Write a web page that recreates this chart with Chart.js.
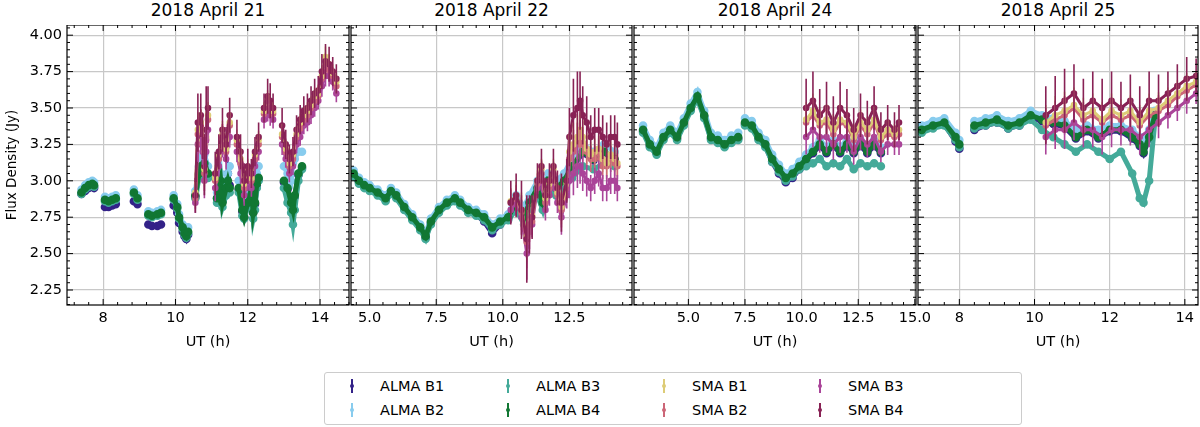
<!DOCTYPE html>
<html><head><meta charset="utf-8">
<script src="https://cdn.jsdelivr.net/npm/chart.js@4"></script>
<style>
body{margin:0;width:1200px;height:427px;background:#fff;font-family:"DejaVu Sans",sans-serif;position:relative;overflow:hidden}
canvas{position:absolute}
.t{position:absolute;top:0px;font-size:17px;text-align:center;color:#000}
#leg{position:absolute;left:324px;top:372px;width:698px;height:53px;border:1px solid #ccc;border-radius:3px;font-size:14.5px;box-sizing:border-box}
.li{position:absolute;height:20px;line-height:20px;white-space:nowrap}
.mk{position:absolute;left:-31px;top:3px;width:6px;height:14px}
.mk i{position:absolute;left:2px;top:0;width:2px;height:14px}
.mk b{position:absolute;left:1px;top:5px;width:4px;height:4px;border-radius:50%}
</style></head><body>
<div class="t" style="left:67px;width:282px">2018 April 21</div>
<div class="t" style="left:351px;width:281px">2018 April 22</div>
<div class="t" style="left:634px;width:282px">2018 April 24</div>
<div class="t" style="left:918px;width:280px">2018 April 25</div>
<canvas id="c1"></canvas><canvas id="c2"></canvas><canvas id="c3"></canvas><canvas id="c4"></canvas>
<div id="leg"></div>
<script>
const seriesNames=["ALMA B1","ALMA B2","ALMA B3","ALMA B4","SMA B1","SMA B2","SMA B3","SMA B4"];
const colors=["#332288","#88ccee","#44aa99","#117733","#ddcc77","#cc6677","#aa4499","#882255"];
const yTicks=[2.25,2.5,2.75,3.0,3.25,3.5,3.75,4.0];
const titles=["2018 April 21","2018 April 22","2018 April 24","2018 April 25"];
const xRanges=[[7.0,14.8],[4.3,14.85],[2.6,15.05],[6.9,14.35]];
const xSteps=[2,2.5,2.5,2];

// Day 1 ALMA (null = gap)
const d1AT=[7.4,7.5,7.6,7.7,7.75,7.9,8.05,8.15,8.25,8.35,8.6,8.85,8.95,9.1,9.25,9.35,9.5,9.6,9.8,9.95,10.05,10.1,10.2,10.25,10.3,10.35,10.45,10.55,10.65,10.7,10.8,10.9,11.0,11.15,11.25,11.3,11.4,11.45,11.5,11.6,11.75,11.85,11.9,12.0,12.1,12.15,12.2,12.25,12.3,12.6,13.0,13.1,13.2,13.25,13.3,13.4,13.5];
const d1A4=[2.92,2.95,2.97,2.98,2.97,null,2.87,2.86,2.87,2.88,null,2.92,2.88,null,2.77,2.76,2.77,2.78,null,2.88,2.82,2.75,2.68,2.64,2.62,2.65,null,2.90,3.05,3.10,3.12,3.05,null,2.88,3.0,2.85,2.95,3.0,2.95,null,2.95,2.80,2.75,2.85,2.95,2.78,2.85,2.98,3.02,null,3.0,2.95,2.85,2.80,2.90,3.05,3.10];
const d1A3=[2.91,2.94,2.96,2.97,2.96,null,2.86,2.85,2.86,2.87,null,2.91,2.87,null,2.76,2.75,2.76,2.77,null,2.87,2.81,2.74,2.67,2.63,2.61,2.64,null,2.88,3.02,3.08,3.10,3.02,null,2.85,2.96,2.82,2.90,2.96,2.92,null,2.92,2.76,2.74,2.82,2.90,2.74,2.80,2.95,3.00,null,2.95,2.85,2.78,2.70,2.80,3.00,3.08];
const d1A2=[2.94,2.97,2.99,3.00,2.99,null,2.89,2.88,2.89,2.90,null,2.94,2.90,null,2.79,2.78,2.79,2.80,null,2.90,2.84,2.77,2.70,2.66,2.64,2.68,null,2.93,3.10,3.16,3.18,3.10,null,2.92,3.05,2.90,3.00,3.05,3.10,null,3.00,2.85,2.80,2.90,3.00,2.84,2.92,3.05,3.10,null,3.10,3.05,3.00,3.12,3.15,3.20,3.20];
const d1A1=[2.91,2.93,2.95,2.96,2.95,null,2.82,2.82,2.83,2.84,null,2.86,2.84,null,2.70,2.69,2.69,2.70,null,2.83,2.78,2.71,2.65,2.62,2.60,2.63,null,2.89,3.04,3.09,3.11,3.04,null,2.88,2.99,2.86,2.96,3.05,2.97,null,2.94,2.79,2.75,2.84,2.94,2.78,2.84,2.97,3.01,null,2.99,2.94,2.85,2.80,2.89,3.04,3.09];
const d1ST=[10.55,10.62,10.7,10.75,10.8,10.85,10.9,11.0,11.1,11.2,11.3,11.4,11.5,11.6,11.7,11.8,11.9,12.0,12.1,12.2,12.3,12.38,12.45,12.55,12.62,12.7,12.85,12.95,13.05,13.15,13.25,13.35,13.45,13.55,13.65,13.75,13.85,13.95,14.05,14.15,14.25,14.35,14.45];
const d1S4=[2.9,3.4,3.45,3.3,3.1,3.35,3.5,null,3.05,3.2,3.35,3.25,3.45,null,3.3,3.2,3.0,3.1,3.05,3.2,3.3,null,3.5,3.58,3.55,3.5,null,3.38,3.25,3.15,3.2,3.35,3.42,3.48,3.5,3.55,3.6,3.62,3.75,3.82,3.8,3.75,3.7];
const d1S3=[2.85,3.25,3.3,3.2,3.0,3.2,3.35,null,2.95,3.1,3.25,3.15,3.3,null,3.2,3.05,2.9,3.0,2.95,3.1,3.2,null,3.42,3.48,3.45,3.42,null,3.25,3.15,3.05,3.1,3.25,3.3,3.38,3.4,3.45,3.5,3.55,3.65,3.72,3.72,3.68,3.6];
const d1S2=[2.88,3.32,3.38,3.25,3.05,3.28,3.42,null,3.0,3.15,3.3,3.2,3.38,null,3.25,3.12,2.95,3.05,3.0,3.15,3.25,null,3.46,3.53,3.5,3.46,null,3.3,3.2,3.1,3.15,3.3,3.36,3.42,3.45,3.5,3.55,3.58,3.7,3.77,3.76,3.72,3.65];
const d1S1=[2.92,3.35,3.4,3.28,3.08,3.3,3.45,null,3.02,3.18,3.32,3.22,3.4,null,3.28,3.15,2.98,3.08,3.02,3.18,3.28,null,3.48,3.55,3.52,3.48,null,3.32,3.22,3.12,3.18,3.32,3.4,3.45,3.48,3.52,3.58,3.6,3.72,3.85,3.8,3.74,3.68];
const d1SE=[0.12,0.2,0.15,0.15,0.2,0.3,0.15,null,0.15,0.12,0.15,0.12,0.12,null,0.12,0.12,0.12,0.12,0.1,0.1,0.1,null,0.1,0.12,0.12,0.1,null,0.12,0.1,0.1,0.1,0.1,0.1,0.1,0.1,0.1,0.1,0.1,0.12,0.12,0.12,0.1,0.1];

// Day 2
const d2AT=[4.4,4.6,4.8,5.0,5.3,5.6,5.8,6.0,6.3,6.6,6.9,7.1,7.3,7.6,7.9,8.2,8.4,8.7,9.0,9.3,9.6,9.9,10.2,10.5,10.8,11.0,11.3,11.5,11.7,12.0,12.3,12.6,13.0,13.4,13.8,14.2];
const d2A4=[3.05,3.0,2.97,2.95,2.92,2.88,2.93,2.9,2.82,2.75,2.68,2.62,2.72,2.80,2.85,2.88,2.85,2.80,2.78,2.75,2.68,2.72,2.75,2.85,2.75,2.85,2.95,2.85,3.0,2.95,3.0,3.1,3.2,3.15,3.2,3.15];
const d2A3=[3.03,2.98,2.95,2.93,2.9,2.86,2.91,2.88,2.8,2.73,2.66,2.6,2.7,2.78,2.83,2.86,2.83,2.78,2.76,2.73,2.66,2.70,2.73,2.80,2.70,2.80,2.90,2.80,2.95,2.90,2.95,3.02,3.1,3.08,3.12,3.1];
const d2A2=[3.07,3.02,2.99,2.97,2.94,2.9,2.95,2.92,2.84,2.77,2.7,2.64,2.74,2.82,2.87,2.9,2.87,2.82,2.8,2.77,2.7,2.74,2.77,2.9,2.82,2.9,3.0,2.92,3.05,3.0,3.05,3.15,3.25,3.2,3.25,3.2];
const d2A1=[3.04,2.99,2.96,2.94,2.91,2.87,2.92,2.89,2.81,2.74,2.67,2.61,2.71,2.79,2.84,2.87,2.84,2.79,2.77,2.72,2.64,2.70,2.74,2.84,2.74,2.84,2.94,2.84,2.99,2.94,2.99,3.09,3.19,3.14,3.19,3.14];
const d2ST=[10.3,10.5,10.7,10.9,11.0,11.1,11.3,11.45,11.6,11.75,11.9,12.05,12.2,12.4,12.5,12.65,12.8,12.9,13.0,13.15,13.3,13.45,13.6,13.75,13.9,14.05,14.2,14.3];
const d2S4=[2.85,2.9,2.8,2.6,2.7,2.75,3.0,3.1,2.9,3.0,3.1,2.95,2.85,3.0,3.3,3.45,3.5,3.55,3.45,3.4,3.3,3.35,3.35,3.3,3.25,3.3,3.3,3.25];
const d2S3=[2.8,2.85,2.75,2.5,2.65,2.7,2.95,3.0,2.8,2.9,3.0,2.85,2.75,2.9,3.0,3.05,3.1,3.1,3.05,3.0,2.95,3.0,3.05,2.95,2.95,3.0,3.0,2.95];
const d2S2=[2.85,2.88,2.78,2.58,2.7,2.72,2.98,3.05,2.85,2.95,3.05,2.9,2.8,2.95,3.15,3.2,3.25,3.3,3.25,3.2,3.15,3.15,3.2,3.1,3.1,3.15,3.12,3.1];
const d2S1=[2.86,2.9,2.8,2.62,2.72,2.76,3.0,3.08,2.88,2.98,3.08,2.92,2.82,2.98,3.2,3.25,3.3,3.35,3.3,3.22,3.18,3.2,3.22,3.15,3.12,3.18,3.15,3.12];
const d2SE=[0.15,0.15,0.2,0.3,0.2,0.15,0.12,0.12,0.12,0.12,0.12,0.12,0.2,0.15,0.2,0.25,0.25,0.2,0.2,0.18,0.15,0.15,0.15,0.15,0.15,0.15,0.15,0.15];

// Day 3
const d3AT=[3.0,3.3,3.6,3.9,4.2,4.5,4.8,5.1,5.4,5.7,6.0,6.3,6.6,6.9,7.2,7.35,7.5,7.8,8.1,8.4,8.7,9.0,9.3,9.6,9.9,10.2,10.5,10.8,11.1,11.4,11.7,12.0,12.3,12.6,12.9,13.2,13.5];
const d3A4=[3.35,3.25,3.2,3.3,3.35,3.3,3.4,3.5,3.58,3.45,3.3,3.28,3.25,3.28,3.3,null,3.4,3.38,3.3,3.25,3.15,3.08,3.02,3.05,3.1,3.15,3.2,3.25,3.2,3.25,3.2,3.25,3.2,3.25,3.2,3.25,3.2];
const d3A3=[3.33,3.23,3.18,3.28,3.33,3.28,3.38,3.48,3.56,3.43,3.28,3.26,3.23,3.26,3.28,null,3.38,3.36,3.28,3.23,3.13,3.06,3.0,3.03,3.08,3.1,3.12,3.15,3.1,3.12,3.1,3.15,3.08,3.12,3.1,3.12,3.1];
const d3A2=[3.38,3.28,3.23,3.33,3.38,3.33,3.43,3.53,3.61,3.48,3.33,3.31,3.28,3.31,3.33,null,3.43,3.41,3.33,3.28,3.18,3.11,3.05,3.08,3.13,3.18,3.23,3.28,3.23,3.28,3.23,3.28,3.23,3.28,3.23,3.28,3.23];
const d3A1=[3.34,3.24,3.19,3.29,3.34,3.29,3.39,3.49,3.57,3.44,3.29,3.27,3.24,3.27,3.29,null,3.39,3.37,3.29,3.24,3.13,3.05,2.99,3.02,3.08,3.14,3.19,3.24,3.19,3.24,3.19,3.24,3.19,3.24,3.19,3.24,3.19];
const d3ST=[10.2,10.5,10.8,11.1,11.4,11.7,12.0,12.3,12.6,12.9,13.2,13.5,13.8,14.1,14.3];
const d3S4=[3.5,3.55,3.45,3.5,3.4,3.5,3.45,3.35,3.45,3.4,3.5,3.35,3.4,3.35,3.4];
const d3S3=[3.3,3.35,3.3,3.3,3.25,3.3,3.3,3.2,3.3,3.25,3.3,3.2,3.25,3.25,3.25];
const d3S2=[3.4,3.45,3.38,3.4,3.32,3.4,3.38,3.28,3.38,3.32,3.4,3.28,3.32,3.3,3.32];
const d3S1=[3.42,3.48,3.4,3.42,3.35,3.42,3.4,3.3,3.4,3.35,3.42,3.3,3.35,3.32,3.35];
const d3SE=[0.2,0.2,0.18,0.18,0.18,0.18,0.18,0.15,0.15,0.15,0.15,0.12,0.12,0.12,0.12];

// Day 4
const d4AT=[7.0,7.3,7.6,7.9,8.0,8.2,8.4,8.7,9.0,9.3,9.6,9.9,10.2,10.5,10.8,11.1,11.4,11.7,12.0,12.3,12.6,12.8,12.9,13.05,13.2];
const d4A4=[3.35,3.38,3.4,3.3,3.25,null,3.38,3.4,3.42,3.38,3.4,3.45,3.42,3.4,3.38,3.3,3.35,3.3,3.35,3.35,3.3,3.25,3.2,3.3,3.45];
const d4A3=[3.33,3.36,3.38,3.28,3.23,null,3.36,3.38,3.4,3.36,3.38,3.42,3.35,3.3,3.25,3.2,3.25,3.2,3.15,3.2,3.05,2.88,2.85,3.0,3.4];
const d4A2=[3.38,3.41,3.43,3.33,3.28,null,3.41,3.43,3.45,3.41,3.43,3.48,3.45,3.43,3.41,3.35,3.38,3.35,3.38,3.38,3.35,3.3,3.25,3.35,3.48];
const d4A1=[3.34,3.37,3.39,3.27,3.22,null,3.35,3.38,3.4,3.36,3.38,3.43,3.41,3.39,3.37,3.29,3.34,3.29,3.34,3.34,3.29,3.24,3.19,3.29,3.44];
const d4ST=[10.3,10.55,10.8,11.05,11.3,11.55,11.8,12.05,12.3,12.55,12.8,13.05,13.3,13.55,13.8,14.05,14.3];
const d4S4=[3.45,3.5,3.55,3.6,3.5,3.55,3.5,3.55,3.5,3.55,3.45,3.55,3.55,3.6,3.65,3.7,3.72];
const d4S3=[3.3,3.35,3.35,3.4,3.35,3.35,3.3,3.35,3.35,3.35,3.3,3.35,3.4,3.45,3.5,3.55,3.6];
const d4S2=[3.38,3.42,3.45,3.5,3.42,3.45,3.4,3.45,3.42,3.45,3.38,3.45,3.48,3.52,3.58,3.62,3.66];
const d4S1=[3.4,3.45,3.48,3.52,3.45,3.48,3.42,3.48,3.45,3.48,3.4,3.48,3.5,3.55,3.6,3.65,3.68];
const d4SE=[0.2,0.22,0.22,0.2,0.2,0.2,0.2,0.2,0.18,0.18,0.2,0.2,0.18,0.15,0.15,0.15,0.12];

const days=[
 {AT:d1AT,A:[d1A1,d1A2,d1A3,d1A4],ST:d1ST,S:[d1S1,d1S2,d1S3,d1S4],SE:d1SE},
 {AT:d2AT,A:[d2A1,d2A2,d2A3,d2A4],ST:d2ST,S:[d2S1,d2S2,d2S3,d2S4],SE:d2SE},
 {AT:d3AT,A:[d3A1,d3A2,d3A3,d3A4],ST:d3ST,S:[d3S1,d3S2,d3S3,d3S4],SE:d3SE},
 {AT:d4AT,A:[d4A1,d4A2,d4A3,d4A4],ST:d4ST,S:[d4S1,d4S2,d4S3,d4S4],SE:d4SE}];

const boxes=[[67,282],[351,281],[634,282],[918,280]];
const TOP=25,H=280,XH=50,P=24;

const frame={id:'frame',
 beforeDatasetsDraw(ch){const c=ch.ctx,a=ch.chartArea;c.save();c.beginPath();c.rect(a.left,a.top,a.right-a.left,a.bottom-a.top);c.clip();},
 afterDatasetsDraw(ch){
  ch.ctx.restore();
  const c=ch.ctx,a=ch.chartArea,xs=ch.scales.x,ys=ch.scales.y;
  c.save();
  ch.data.datasets.forEach((ds,i)=>{if(!ds.errs)return;
   c.strokeStyle=ds.borderColor;c.lineWidth=1.6;c.beginPath();
   ds.data.forEach((p,j)=>{if(p.y==null)return;const e=ds.errs[j];const px=xs.getPixelForValue(p.x);
    let y1=Math.max(a.top,ys.getPixelForValue(p.y+e)),y2=Math.min(a.bottom,ys.getPixelForValue(p.y-e));c.moveTo(px,y1);c.lineTo(px,y2);});
   c.stroke();});
  c.strokeStyle='#000';c.lineWidth=1.2;
  c.strokeRect(a.left,a.top,a.right-a.left,a.bottom-a.top);
  c.lineWidth=1;c.beginPath();
  const st=ch.options.scales.x.ticks.stepSize;
  for(let v=Math.ceil(xs.min/(st/5))*(st/5);v<=xs.max+1e-9;v+=st/5){const px=xs.getPixelForValue(v);
   const major=Math.abs(v/st-Math.round(v/st))<1e-6;const L=major?6:3;
   c.moveTo(px,a.bottom);c.lineTo(px,a.bottom-L);c.moveTo(px,a.top);c.lineTo(px,a.top+L);}
  for(let v=2.15;v<=4.07;v+=0.05){const py=ys.getPixelForValue(v);
   const major=Math.abs(v/0.25-Math.round(v/0.25))<1e-6;const L=major?6:3;
   c.moveTo(a.left,py);c.lineTo(a.left+L,py);c.moveTo(a.right,py);c.lineTo(a.right-L,py);}
  c.stroke();c.restore();}};

days.forEach((d,k)=>{
 const cv=document.getElementById('c'+(k+1));
 const [bl,bw]=boxes[k];
 const yw=k===0?67:0;
 const pl=k===0?0:P, pr=P;
 const left=bl-yw-pl,width=bw+yw+pl+pr;
 cv.style.left=left+'px';cv.style.top=TOP+'px';cv.style.width=width+'px';cv.style.height=(H+XH)+'px';
 cv.width=width;cv.height=H+XH;
 const ds=[];
 d.A.forEach((v,i)=>ds.push({label:seriesNames[i],data:d.AT.map((t,j)=>({x:t,y:v[j]})),borderColor:colors[i],backgroundColor:colors[i],showLine:true,borderWidth:5,pointRadius:1.8,spanGaps:false,order:10-i}));
 d.S.forEach((v,i)=>ds.push({label:seriesNames[4+i],data:d.ST.map((t,j)=>({x:t,y:v[j]})),errs:d.SE.map(e=>e==null?0:e*(i===3?1:0.6)),borderColor:colors[4+i],backgroundColor:colors[4+i],showLine:true,borderWidth:3,pointRadius:1.8,spanGaps:false,order:10-(4+[2,1,0,3][i])}));
 new Chart(cv,{type:'scatter',data:{datasets:ds},plugins:[frame],
  options:{responsive:false,animation:false,devicePixelRatio:1,layout:{padding:{left:pl,right:pr,top:0,bottom:0},autoPadding:false},
   plugins:{legend:{display:false},tooltip:{enabled:false}},
   scales:{
    x:{type:'linear',min:xRanges[k][0],max:xRanges[k][1],
     afterBuildTicks(s){const st=xSteps[k];const t=[];for(let v=Math.ceil(s.min/st)*st;v<=s.max+1e-9;v+=st)t.push({value:+v.toFixed(2)});s.ticks=t;},
     ticks:{stepSize:xSteps[k],autoSkip:false,maxRotation:0,color:'#000',font:{family:'DejaVu Sans',size:14.5},padding:5,
      callback:(v)=>xSteps[k]===2?String(v):v.toFixed(1)},
     grid:{color:'#c8c8c8',lineWidth:1.2,drawTicks:false},border:{display:false},
     title:{display:true,text:'UT (h)',color:'#000',font:{family:'DejaVu Sans',size:14.5},padding:{top:3}},
     afterFit(s){s.height=XH;s.paddingLeft=0;s.paddingRight=0;}},
    y:{type:'linear',min:2.147,max:4.07,
     afterBuildTicks(s){s.ticks=yTicks.map(v=>({value:v}));},
     ticks:{display:k===0,color:'#000',font:{family:'DejaVu Sans',size:14.5},padding:5,callback:v=>v.toFixed(2)},
     grid:{color:'#c8c8c8',lineWidth:1.2,drawTicks:false},border:{display:false},
     title:{display:k===0,text:'Flux Density (Jy)',color:'#000',font:{family:'DejaVu Sans',size:13.5},padding:{bottom:0}},
     afterFit(s){s.width=yw;s.paddingTop=0;s.paddingBottom=0;}}}}});
});

const leg=document.getElementById('leg');
const cols=[[0,1],[2,3],[4,5],[6,7]];
cols.forEach((pr,ci)=>pr.forEach((si,ri)=>{
 const el=document.createElement('div');el.className='li';
 el.style.left=(55+ci*156)+'px';el.style.top=(3+ri*24)+'px';
 el.innerHTML='<span class="mk"><i style="background:'+colors[si]+'"></i><b style="background:'+colors[si]+'"></b></span>'+seriesNames[si];
 leg.appendChild(el);}));
</script></body></html>
